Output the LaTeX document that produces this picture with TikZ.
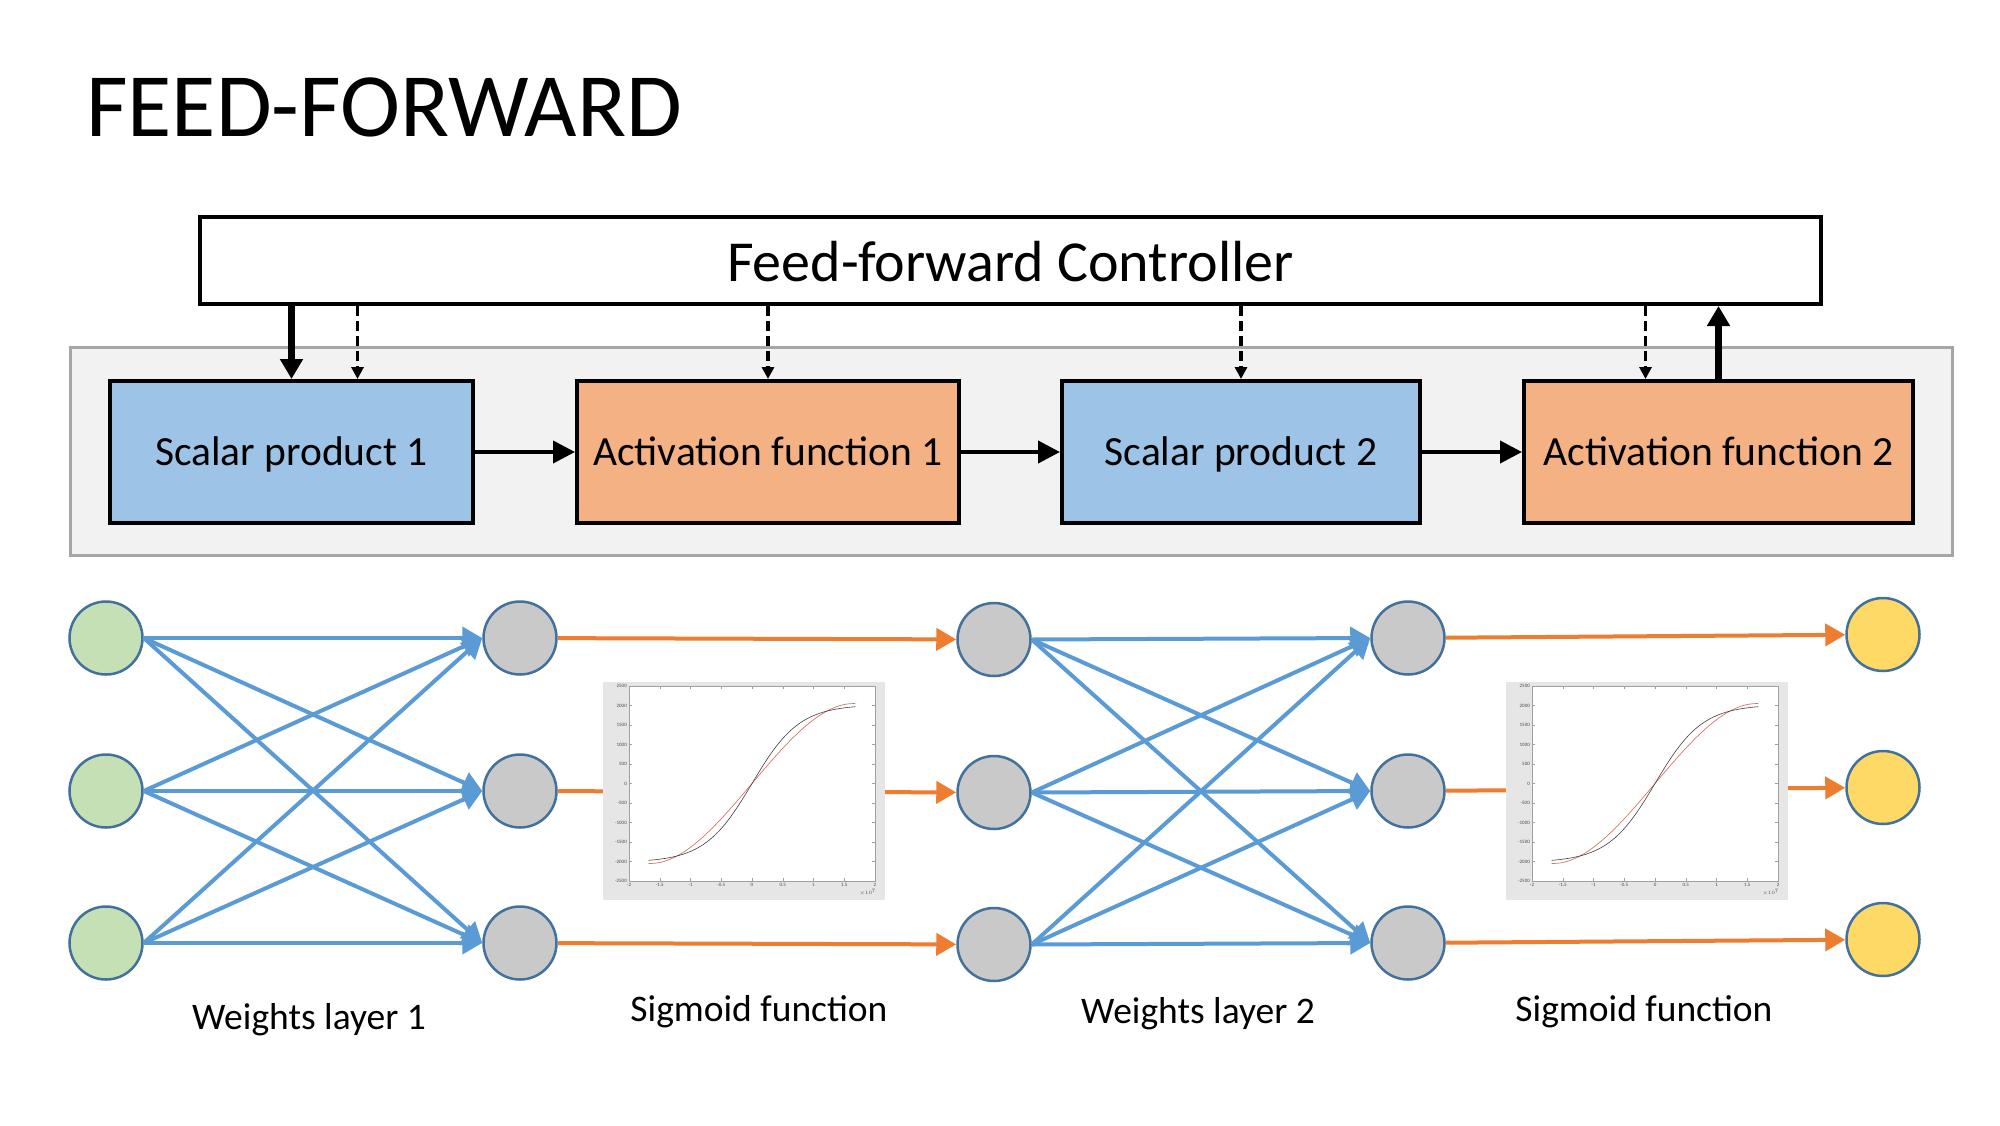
\documentclass[tikz,border=0pt]{standalone}
\usepackage{fontspec}
\setmainfont{Carlito}
\usetikzlibrary{arrows.meta}
\definecolor{boxblue}{HTML}{9DC3E6}
\definecolor{boxorange}{HTML}{F4B183}
\definecolor{panelbg}{HTML}{F2F2F2}
\definecolor{panelborder}{HTML}{A6A6A6}
\definecolor{ngreen}{HTML}{C5E0B4}
\definecolor{ngray}{HTML}{C9C9C9}
\definecolor{nyellow}{HTML}{FFD966}
\definecolor{lblue}{HTML}{5B9BD5}
\definecolor{lorange}{HTML}{ED7D31}
\definecolor{nborder}{HTML}{41719C}
\definecolor{plotbgc}{HTML}{E6E6E6}
\definecolor{axisc}{HTML}{A0A0A0}
\definecolor{curvered}{HTML}{D9756B}
\tikzset{
  stagebox/.style={draw=black, line width=4pt, minimum height=142pt, inner sep=0pt, text height=30pt, text depth=4pt, font=\fontsize{41.5}{49}\selectfont},
  neuron/.style={circle, draw=nborder, line width=2.5pt, minimum size=73pt, inner sep=0pt},
  solidarr/.style={line width=7pt, -{Triangle[width=22pt,length=20pt]}},
  dasharr/.style={line width=3.5pt, dash pattern=on 10pt off 5pt, -{Triangle[width=12pt,length=12pt]}},
  flowarr/.style={line width=4pt, -{Triangle[width=22pt,length=22pt]}},
  bluearr/.style={lblue, line width=4pt, -{Triangle[width=22pt,length=20pt]}},
  orangearr/.style={lorange, line width=4pt, -{Triangle[width=22pt,length=20pt]}},
  lbl/.style={anchor=base, font=\fontsize{37.5}{45}\selectfont},
  ticklbl/.style={font=\fontsize{5}{6}\selectfont, text=black!70, inner sep=1pt},
}
\newcommand\sigplot[2]{%
  \begin{scope}[shift={(#1,0)}]
    \node[fill=plotbgc, minimum width=282pt, minimum height=218pt, inner sep=0pt] (#2) at (744,791) {};
    \draw[axisc, line width=0.6pt, fill=white] (629,686) rectangle (875,881);
    \foreach \v in {2500,2000,1500,1000,500,0,-500,-1000,-1500,-2000,-2500}{
      \draw[axisc, line width=0.5pt] (629,{783.5-0.039*\v}) -- (632,{783.5-0.039*\v});
      \draw[axisc, line width=0.5pt] (875,{783.5-0.039*\v}) -- (872,{783.5-0.039*\v});
      \node[ticklbl, anchor=east] at (628,{783.5-0.039*\v}) {\v};
    }
    \foreach \v in {-2,-1.5,-1,-0.5,0,0.5,1,1.5,2}{
      \draw[axisc, line width=0.5pt] ({629+(\v+2)*61.5},881) -- ({629+(\v+2)*61.5},878);
      \draw[axisc, line width=0.5pt] ({629+(\v+2)*61.5},686) -- ({629+(\v+2)*61.5},689);
      \node[ticklbl, anchor=north] at ({629+(\v+2)*61.5},882) {\v};
    }
    \node[ticklbl, anchor=north east] at (877,888) {$\times10^{7}$};
    \draw[curvered, line width=0.7pt, domain=-1.68:1.68, samples=80, smooth]
      plot ({629+(\x+2)*61.5}, {783.5-0.039*(1863*\x-228*\x*\x*\x)});
    \draw[black!75, line width=0.6pt, domain=-1.68:1.68, samples=80, smooth]
      plot ({629+(\x+2)*61.5}, {783.5-0.039*2020*tanh(1.3*\x)});
  \end{scope}%
}
\begin{document}
\begin{tikzpicture}[x=1pt,y=-1pt]
\useasboundingbox (0,0) rectangle (2000,1125);
\fill[white] (0,0) rectangle (2000,1125);

\node[anchor=base west, font=\fontsize{90.5}{100}\selectfont, inner sep=0pt] (title) at (86,136) {FEED-FORWARD};

% panel
\node[draw=panelborder, fill=panelbg, line width=3pt, minimum width=1882pt, minimum height=208pt, inner sep=0pt] (panel) at (1011,451) {};

% controller
\node[draw=black, line width=4pt, fill=white, minimum width=1621pt, minimum height=87pt, inner sep=0pt, text height=46pt, text depth=4pt, font=\fontsize{58}{68}\selectfont] (ctrl) at (1010.5,260.5) {Feed-forward Controller};

% stage boxes
\node[stagebox, fill=boxblue, minimum width=363pt] (b1) at (291.5,452) {Scalar product 1};
\node[stagebox, fill=boxorange, minimum width=382pt] (b2) at (768,452) {Activation function 1};
\node[stagebox, fill=boxblue, minimum width=358pt] (b3) at (1241,452) {Scalar product 2};
\node[stagebox, fill=boxorange, minimum width=389pt] (b4) at (1718.5,452) {Activation function 2};

\draw[flowarr] (b1) -- (b2);
\draw[flowarr] (b2) -- (b3);
\draw[flowarr] (b3) -- (b4);

% controller links
\coordinate (d1) at ([xshift=66pt]b1.north);
\coordinate (d4) at ([xshift=-73pt]b4.north);
\draw[solidarr] (b1.north |- ctrl.south) -- (b1.north);
\draw[dasharr] (d1 |- ctrl.south) -- (d1);
\draw[dasharr] (b2.north |- ctrl.south) -- (b2.north);
\draw[dasharr] (b3.north |- ctrl.south) -- (b3.north);
\draw[dasharr] (d4 |- ctrl.south) -- (d4);
\draw[solidarr] (b4.north) -- (b4.north |- ctrl.south);

% neurons
\foreach \i/\y in {0/638,1/791,2/943}{
  \node[neuron, fill=ngreen] (a\i) at (106,\y) {};
  \node[neuron, fill=ngray] (h\i) at (520,\y) {};
  \node[neuron, fill=ngray] (g\i) at (994,\y+1.5) {};
  \node[neuron, fill=ngray] (k\i) at (1408,\y) {};
  \node[neuron, fill=nyellow] (o\i) at (1883,\y-3.5) {};
}

% weights layer 1 and 2
\foreach \i in {0,1,2}{
  \foreach \j in {0,1,2}{
    \draw[bluearr] (a\i.east) -- (h\j.west);
    \draw[bluearr] (g\i.east) -- (k\j.west);
  }
}

% sigmoid connections
\foreach \i in {0,1,2}{
  \draw[orangearr] (h\i) -- (g\i);
  \draw[orangearr] (k\i) -- (o\i);
}

% sigmoid plots
\sigplot{0}{plotA}
\sigplot{903}{plotB}

% labels
\node[lbl] (l1) at (309,1029) {Weights layer 1};
\node[lbl] (l2) at (759,1021) {Sigmoid function};
\node[lbl] (l3) at (1198,1023) {Weights layer 2};
\node[lbl] (l4) at (1644,1021) {Sigmoid function};
\end{tikzpicture}
\end{document}
